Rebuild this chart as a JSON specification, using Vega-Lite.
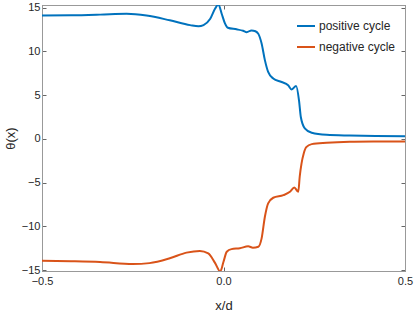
{
  "$schema": "https://vega.github.io/schema/vega-lite/v6.json",
  "width": 363,
  "height": 266,
  "autosize": {"type": "none"},
  "padding": {"left": 42, "top": 5, "right": 10, "bottom": 42},
  "background": "white",
  "config": {
    "view": {"stroke": "#999999", "strokeWidth": 1},
    "font": "Liberation Sans",
    "axis": {"domainColor": "#999999", "tickColor": "#666666", "labelColor": "#262626", "titleColor": "#262626", "labelFontSize": 11, "titleFontSize": 12, "titleFontWeight": "normal", "grid": false, "tickSize": -4, "labelFlush": false}
  },
  "data": {"values": [
    {"x": -0.5, "y": 14.1, "s": "positive cycle"},
    {"x": -0.42, "y": 14.12, "s": "positive cycle"},
    {"x": -0.34, "y": 14.2, "s": "positive cycle"},
    {"x": -0.267, "y": 14.3, "s": "positive cycle"},
    {"x": -0.212, "y": 14.1, "s": "positive cycle"},
    {"x": -0.148, "y": 13.55, "s": "positive cycle"},
    {"x": -0.092, "y": 13.0, "s": "positive cycle"},
    {"x": -0.069, "y": 12.86, "s": "positive cycle"},
    {"x": -0.055, "y": 13.0, "s": "positive cycle"},
    {"x": -0.037, "y": 13.7, "s": "positive cycle"},
    {"x": -0.023, "y": 14.9, "s": "positive cycle"},
    {"x": -0.014, "y": 15.35, "s": "positive cycle"},
    {"x": -0.005, "y": 14.3, "s": "positive cycle"},
    {"x": 0.004, "y": 13.2, "s": "positive cycle"},
    {"x": 0.012, "y": 12.7, "s": "positive cycle"},
    {"x": 0.036, "y": 12.52, "s": "positive cycle"},
    {"x": 0.054, "y": 12.35, "s": "positive cycle"},
    {"x": 0.064, "y": 12.2, "s": "positive cycle"},
    {"x": 0.077, "y": 12.4, "s": "positive cycle"},
    {"x": 0.088, "y": 12.3, "s": "positive cycle"},
    {"x": 0.096, "y": 12.0, "s": "positive cycle"},
    {"x": 0.105, "y": 10.9, "s": "positive cycle"},
    {"x": 0.114, "y": 9.0, "s": "positive cycle"},
    {"x": 0.123, "y": 7.65, "s": "positive cycle"},
    {"x": 0.137, "y": 6.9, "s": "positive cycle"},
    {"x": 0.16, "y": 6.5, "s": "positive cycle"},
    {"x": 0.178, "y": 6.13, "s": "positive cycle"},
    {"x": 0.188, "y": 5.64, "s": "positive cycle"},
    {"x": 0.2, "y": 6.05, "s": "positive cycle"},
    {"x": 0.208, "y": 4.4, "s": "positive cycle"},
    {"x": 0.213, "y": 2.5, "s": "positive cycle"},
    {"x": 0.224, "y": 1.2, "s": "positive cycle"},
    {"x": 0.243, "y": 0.7, "s": "positive cycle"},
    {"x": 0.284, "y": 0.46, "s": "positive cycle"},
    {"x": 0.348, "y": 0.38, "s": "positive cycle"},
    {"x": 0.42, "y": 0.33, "s": "positive cycle"},
    {"x": 0.5, "y": 0.3, "s": "positive cycle"},
    {"x": -0.5, "y": -13.93, "s": "negative cycle"},
    {"x": -0.42, "y": -13.98, "s": "negative cycle"},
    {"x": -0.34, "y": -14.07, "s": "negative cycle"},
    {"x": -0.25, "y": -14.3, "s": "negative cycle"},
    {"x": -0.204, "y": -14.2, "s": "negative cycle"},
    {"x": -0.148, "y": -13.65, "s": "negative cycle"},
    {"x": -0.102, "y": -13.0, "s": "negative cycle"},
    {"x": -0.065, "y": -12.8, "s": "negative cycle"},
    {"x": -0.042, "y": -13.08, "s": "negative cycle"},
    {"x": -0.023, "y": -14.2, "s": "negative cycle"},
    {"x": -0.009, "y": -15.15, "s": "negative cycle"},
    {"x": 0.0, "y": -14.04, "s": "negative cycle"},
    {"x": 0.009, "y": -12.9, "s": "negative cycle"},
    {"x": 0.022, "y": -12.6, "s": "negative cycle"},
    {"x": 0.045, "y": -12.5, "s": "negative cycle"},
    {"x": 0.068, "y": -12.28, "s": "negative cycle"},
    {"x": 0.081, "y": -12.44, "s": "negative cycle"},
    {"x": 0.096, "y": -12.33, "s": "negative cycle"},
    {"x": 0.105, "y": -11.37, "s": "negative cycle"},
    {"x": 0.114, "y": -8.9, "s": "negative cycle"},
    {"x": 0.123, "y": -7.37, "s": "negative cycle"},
    {"x": 0.137, "y": -6.73, "s": "negative cycle"},
    {"x": 0.165, "y": -6.43, "s": "negative cycle"},
    {"x": 0.183, "y": -6.05, "s": "negative cycle"},
    {"x": 0.195, "y": -5.55, "s": "negative cycle"},
    {"x": 0.206, "y": -6.05, "s": "negative cycle"},
    {"x": 0.21, "y": -4.3, "s": "negative cycle"},
    {"x": 0.215, "y": -2.8, "s": "negative cycle"},
    {"x": 0.221, "y": -1.67, "s": "negative cycle"},
    {"x": 0.228, "y": -0.95, "s": "negative cycle"},
    {"x": 0.243, "y": -0.6, "s": "negative cycle"},
    {"x": 0.284, "y": -0.45, "s": "negative cycle"},
    {"x": 0.348, "y": -0.34, "s": "negative cycle"},
    {"x": 0.42, "y": -0.31, "s": "negative cycle"},
    {"x": 0.5, "y": -0.3, "s": "negative cycle"}
  ]},
  "layer": [
    {
      "mark": {"type": "line", "strokeWidth": 2, "interpolate": "monotone", "clip": true},
      "encoding": {
        "x": {"field": "x", "type": "quantitative", "scale": {"domain": [-0.5, 0.5], "nice": false, "zero": false},
              "axis": {"values": [-0.5, 0, 0.5], "title": "x/d", "labelPadding": 8, "titlePadding": 13, "titleFontSize": 13}},
        "y": {"field": "y", "type": "quantitative", "scale": {"domain": [-15.1, 15.3], "nice": false, "zero": false},
              "axis": {"values": [-15, -10, -5, 0, 5, 10, 15], "title": "θ(x)", "labelPadding": 6, "titlePadding": 4, "titleFontSize": 13}},
        "color": {"field": "s", "type": "nominal",
                  "scale": {"domain": ["positive cycle", "negative cycle"], "range": ["#0072BD", "#D95319"]},
                  "legend": {"title": null, "orient": "none", "legendX": 254, "legendY": 11, "symbolType": "stroke", "symbolSize": 324, "symbolStrokeWidth": 2, "labelFontSize": 12, "labelColor": "#262626", "labelOffset": 3, "rowPadding": 5, "padding": 0}}
      }
    },
    {
      "mark": {"type": "line", "strokeOpacity": 0},
      "encoding": {
        "x": {"field": "x", "type": "quantitative", "axis": {"orient": "top", "values": [-0.5, 0, 0.5], "labels": false, "title": null}},
        "y": {"field": "y", "type": "quantitative", "axis": {"orient": "right", "values": [-15, -10, -5, 0, 5, 10, 15], "labels": false, "title": null}},
        "detail": {"field": "s"}
      }
    }
  ],
  "resolve": {"axis": {"x": "independent", "y": "independent"}}
}
